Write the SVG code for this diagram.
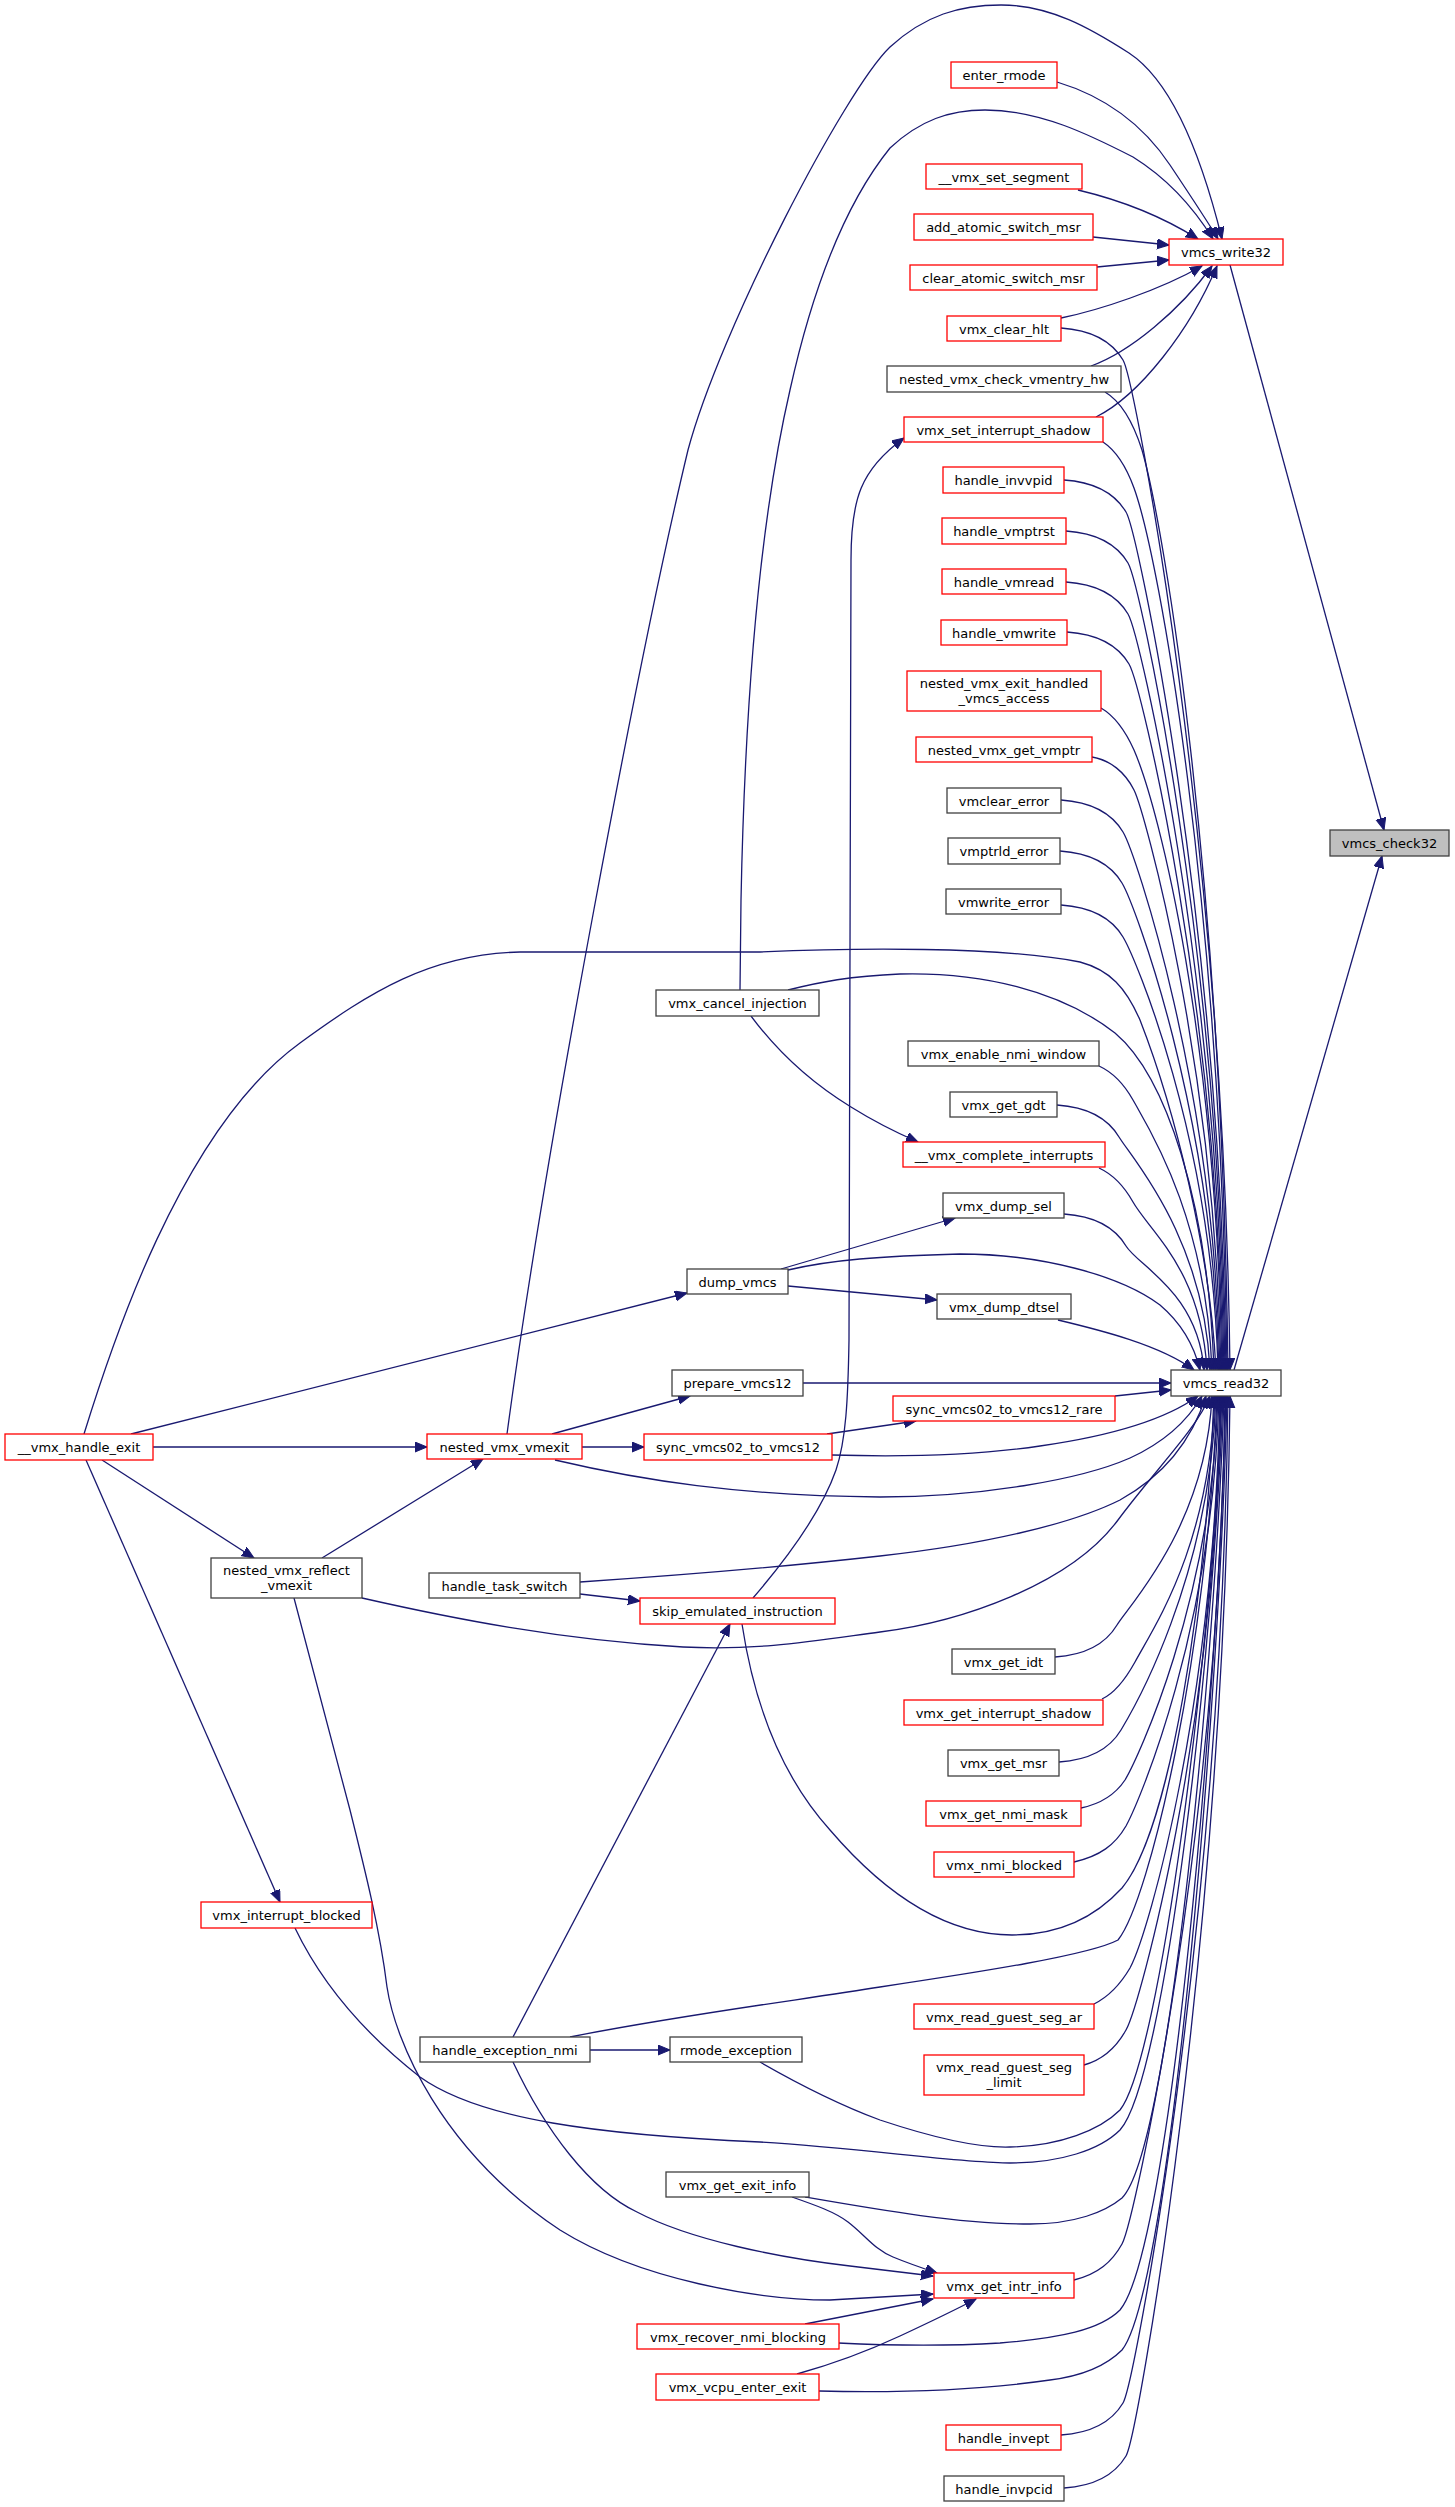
<svg xmlns="http://www.w3.org/2000/svg" width="1455" height="2507" viewBox="0 0 1455 2507">
<style>
.n rect{fill:#ffffff;stroke-width:1.3}
.r rect{stroke:#ff0000}
.k rect{stroke:#404040}
.root rect{fill:#bfbfbf;stroke:#404040}
text{font-family:"DejaVu Sans","Liberation Sans",sans-serif;font-size:13px;text-anchor:middle;fill:#000000}
#edges path{fill:none;stroke:#191970;stroke-width:1.3;marker-end:url(#a)}
</style>
<defs>
<marker id="a" markerUnits="userSpaceOnUse" markerWidth="14" markerHeight="12" refX="12" refY="5" orient="auto">
<path d="M0,0 L12,5 L0,10 z" fill="#191970" stroke="#191970" stroke-width="1"/>
</marker>
</defs>
<rect x="0" y="0" width="1455" height="2507" fill="#ffffff"/>
<g id="edges">
<!-- to vmcs_check32 -->
<path d="M1230,265 L1384,830"/>
<path d="M1234,1370 L1382,856"/>
<!-- to vmcs_write32 -->
<path d="M507,1434 C545,1150 640,650 688,450 C720,330 845,90 890,47 C925,15 960,5 1001,5 C1050,5 1090,28 1129,53 C1170,80 1200,150 1222,239"/>
<path d="M1057,82 C1100,95 1140,120 1170,165 C1190,195 1208,222 1218,239"/>
<path d="M740,990 L741,900 C745,700 760,520 790,390 C810,300 840,210 890,148 C920,120 950,110 985,110 C1040,110 1090,135 1133,157 C1170,180 1195,210 1213,239"/>
<path d="M1078,190 C1120,200 1160,215 1198,239"/>
<path d="M1093,237 L1169,245"/>
<path d="M1097,267 L1169,260"/>
<path d="M1061,318 C1100,310 1160,290 1202,266"/>
<path d="M1091,366 C1130,352 1180,310 1212,266"/>
<path d="M1096,417 C1140,395 1190,330 1217,266"/>
<!-- to vmcs_read32 from above -->
<path d="M1061,328 C1091,330 1111,340 1123,360 C1135,380 1224,849 1230,1370"/>
<path d="M1105,392 C1122,402 1134,425 1142,450 C1165,530 1222,881 1228,1370"/>
<path d="M1103,442 C1115,450 1126,466 1134,488 C1160,560 1221,906 1227,1370"/>
<path d="M1064,480 C1094,482 1114,492 1126,512 C1138,532 1220,925 1226,1370"/>
<path d="M1066,531 C1096,533 1116,543 1128,563 C1140,583 1219,950 1225,1370"/>
<path d="M1066,582 C1096,584 1116,594 1128,614 C1140,634 1218,976 1224,1370"/>
<path d="M1067,632 C1097,634 1117,644 1129,664 C1141,684 1217,1001 1223,1370"/>
<path d="M1101,708 C1113,715 1125,730 1134,750 C1160,810 1216,1039 1222,1370"/>
<path d="M1092,757 C1110,760 1125,772 1134,790 C1144,810 1215,1063 1221,1370"/>
<path d="M1061,800 C1091,802 1111,812 1123,832 C1135,852 1214,1085 1220,1370"/>
<path d="M1060,851 C1090,853 1110,863 1122,883 C1134,903 1213,1110 1219,1370"/>
<path d="M1061,905 C1091,907 1111,917 1123,937 C1135,957 1212,1137 1218,1370"/>
<path d="M84,1434 C110,1350 180,1130 300,1043 C370,992 430,954 520,952 L760,952 C850,948 1000,946 1080,962 C1110,970 1126,988 1140,1020 C1175,1110 1210,1250 1216,1370"/>
<path d="M788,990 C820,982 850,976 900,974 C980,972 1060,990 1115,1033 C1165,1075 1208,1200 1214,1370"/>
<path d="M1099,1066 C1112,1072 1124,1084 1133,1100 C1150,1130 1206,1218 1212,1370"/>
<path d="M1057,1105 C1087,1107 1107,1117 1119,1137 C1131,1157 1204,1237 1210,1370"/>
<path d="M1099,1168 C1112,1174 1124,1186 1133,1202 C1150,1232 1201,1269 1207,1370"/>
<path d="M1064,1214 C1094,1216 1114,1226 1126,1246 C1138,1266 1198,1292 1204,1370"/>
<path d="M788,1270 C830,1260 880,1256 960,1254 C1040,1254 1120,1275 1160,1305 C1180,1322 1194,1345 1200,1370"/>
<path d="M1058,1320 C1100,1330 1160,1345 1194,1370"/>
<path d="M803,1383 L1171,1383"/>
<path d="M1115,1396 L1171,1390"/>
<!-- to vmcs_read32 from below -->
<path d="M832,1455 C900,1457 980,1455 1040,1446 C1110,1436 1165,1420 1198,1396"/>
<path d="M555,1460 C640,1480 740,1496 880,1497 C980,1497 1080,1480 1130,1458 C1165,1442 1188,1420 1202,1396"/>
<path d="M580,1582 C700,1574 800,1565 880,1556 C980,1545 1070,1525 1120,1500 C1165,1475 1192,1440 1206,1396"/>
<path d="M362,1598 C450,1618 560,1640 683,1647 C760,1651 820,1640 880,1632 C960,1622 1070,1585 1118,1520 C1155,1470 1196,1430 1210,1396"/>
<path d="M1055,1657 C1085,1655 1105,1645 1117,1625 C1129,1605 1206,1526 1212,1396"/>
<path d="M742,1624 C755,1710 785,1780 830,1830 C890,1900 950,1935 1012,1935 C1065,1935 1100,1912 1122,1888 C1170,1830 1206,1600 1214,1396"/>
<path d="M1102,1699 C1115,1693 1125,1680 1135,1662 C1155,1625 1209,1547 1215,1396"/>
<path d="M1059,1762 C1089,1760 1109,1750 1121,1730 C1133,1710 1210,1579 1216,1396"/>
<path d="M570,2037 C680,2015 800,2000 880,1987 C980,1972 1090,1955 1118,1940 C1150,1900 1208,1650 1217,1396"/>
<path d="M1081,1808 C1100,1804 1115,1795 1125,1780 C1137,1760 1212,1602 1218,1396"/>
<path d="M1074,1862 C1100,1856 1115,1845 1126,1826 C1140,1800 1213,1629 1219,1396"/>
<path d="M1094,2004 C1108,1997 1120,1985 1130,1968 C1150,1930 1214,1700 1220,1396"/>
<path d="M1084,2065 C1102,2060 1116,2048 1126,2030 C1140,2005 1215,1730 1221,1396"/>
<path d="M760,2062 C800,2085 840,2105 880,2120 C940,2140 980,2148 1010,2147 C1060,2146 1100,2130 1120,2110 C1160,2060 1212,1650 1222,1396"/>
<path d="M295,1928 C320,1980 360,2030 420,2077 C480,2120 600,2135 760,2142 C860,2148 960,2163 1010,2163 C1060,2163 1100,2150 1120,2130 C1165,2080 1214,1650 1223,1396"/>
<path d="M805,2197 C880,2210 960,2224 1030,2224 C1075,2224 1105,2212 1122,2198 C1170,2150 1216,1650 1224,1396"/>
<path d="M1074,2280 C1098,2274 1112,2262 1122,2244 C1134,2222 1219,1838 1225,1396"/>
<path d="M838,2343 C900,2346 950,2346 1000,2343 C1060,2338 1100,2330 1120,2310 C1170,2250 1218,1700 1226,1396"/>
<path d="M819,2391 C900,2393 980,2390 1050,2380 C1090,2375 1110,2362 1122,2350 C1170,2290 1220,1700 1227,1396"/>
<path d="M1061,2435 C1091,2433 1111,2423 1123,2403 C1135,2383 1222,1915 1228,1396"/>
<path d="M1064,2488 C1094,2486 1114,2476 1126,2456 C1138,2436 1224,1942 1230,1396"/>
<!-- other edges -->
<path d="M153,1447 L427,1447"/>
<path d="M102,1460 L254,1558"/>
<path d="M131,1434 L687,1293"/>
<path d="M86,1460 L280,1902"/>
<path d="M322,1558 L483,1459"/>
<path d="M552,1434 L690,1396"/>
<path d="M582,1447 L644,1447"/>
<path d="M827,1434 L916,1421"/>
<path d="M751,1016 C780,1055 815,1085 851,1107 C875,1122 895,1132 918,1142"/>
<path d="M781,1269 L955,1218"/>
<path d="M788,1286 L937,1300"/>
<path d="M753,1598 C790,1555 822,1510 836,1470 C846,1440 848,1400 849,1340 L851,560 C851,500 860,470 904,438"/>
<path d="M580,1594 L640,1601"/>
<path d="M513,2037 L730,1624"/>
<path d="M590,2050 L670,2050"/>
<path d="M513,2062 C545,2130 590,2190 637,2212 C690,2240 780,2258 850,2266 L933,2276"/>
<path d="M294,1598 L350,1810 C365,1870 380,1930 387,1987 C395,2040 440,2150 560,2230 C640,2280 760,2300 830,2300 L933,2294"/>
<path d="M792,2197 C815,2205 835,2212 848,2222 C865,2235 875,2250 893,2257 C910,2264 922,2268 937,2273"/>
<path d="M805,2324 L933,2299"/>
<path d="M797,2374 C840,2362 870,2350 900,2336 C930,2322 955,2310 976,2299"/>
</g>
<g id="vmcs_check32" class="n root"><rect x="1330" y="830" width="119" height="26"/><text x="1389.5" y="847.5">vmcs_check32</text></g>
<g id="vmcs_write32" class="n r"><rect x="1169" y="239" width="114" height="26"/><text x="1226" y="256.5">vmcs_write32</text></g>
<g id="vmcs_read32" class="n k"><rect x="1171" y="1370" width="110" height="26"/><text x="1226" y="1387.5">vmcs_read32</text></g>
<g id="enter_rmode" class="n r"><rect x="951" y="62" width="106" height="26"/><text x="1004" y="79.5">enter_rmode</text></g>
<g id="vmx_set_segment" class="n r"><rect x="926" y="164" width="156" height="25"/><text x="1004" y="181.5">__vmx_set_segment</text></g>
<g id="add_atomic_switch_msr" class="n r"><rect x="914" y="214" width="179" height="26"/><text x="1003.5" y="231.5">add_atomic_switch_msr</text></g>
<g id="clear_atomic_switch_msr" class="n r"><rect x="910" y="265" width="187" height="25"/><text x="1003.5" y="282.5">clear_atomic_switch_msr</text></g>
<g id="vmx_clear_hlt" class="n r"><rect x="947" y="316" width="114" height="25"/><text x="1004" y="333.5">vmx_clear_hlt</text></g>
<g id="nested_vmx_check_vmentry_hw" class="n k"><rect x="887" y="366" width="234" height="26"/><text x="1004" y="383.5">nested_vmx_check_vmentry_hw</text></g>
<g id="vmx_set_interrupt_shadow" class="n r"><rect x="904" y="417" width="199" height="25"/><text x="1003.5" y="434.5">vmx_set_interrupt_shadow</text></g>
<g id="handle_invvpid" class="n r"><rect x="943" y="467" width="121" height="26"/><text x="1003.5" y="484.5">handle_invvpid</text></g>
<g id="handle_vmptrst" class="n r"><rect x="942" y="518" width="124" height="26"/><text x="1004" y="535.5">handle_vmptrst</text></g>
<g id="handle_vmread" class="n r"><rect x="942" y="569" width="124" height="25"/><text x="1004" y="586.5">handle_vmread</text></g>
<g id="handle_vmwrite" class="n r"><rect x="941" y="620" width="126" height="25"/><text x="1004" y="637.5">handle_vmwrite</text></g>
<g id="nested_vmx_exit_handled_vmcs_access" class="n r"><rect x="907" y="671" width="194" height="40"/><text x="1004" y="688">nested_vmx_exit_handled</text><text x="1004" y="703">_vmcs_access</text></g>
<g id="nested_vmx_get_vmptr" class="n r"><rect x="916" y="737" width="176" height="25"/><text x="1004" y="754.5">nested_vmx_get_vmptr</text></g>
<g id="vmclear_error" class="n k"><rect x="947" y="788" width="114" height="25"/><text x="1004" y="805.5">vmclear_error</text></g>
<g id="vmptrld_error" class="n k"><rect x="948" y="838" width="112" height="26"/><text x="1004" y="855.5">vmptrld_error</text></g>
<g id="vmwrite_error" class="n k"><rect x="946" y="889" width="115" height="25"/><text x="1003.5" y="906.5">vmwrite_error</text></g>
<g id="vmx_enable_nmi_window" class="n k"><rect x="908" y="1041" width="191" height="25"/><text x="1003.5" y="1058.5">vmx_enable_nmi_window</text></g>
<g id="vmx_get_gdt" class="n k"><rect x="950" y="1092" width="107" height="25"/><text x="1003.5" y="1109.5">vmx_get_gdt</text></g>
<g id="vmx_complete_interrupts" class="n r"><rect x="903" y="1142" width="202" height="25"/><text x="1004" y="1159.5">__vmx_complete_interrupts</text></g>
<g id="vmx_dump_sel" class="n k"><rect x="943" y="1193" width="121" height="25"/><text x="1003.5" y="1210.5">vmx_dump_sel</text></g>
<g id="vmx_dump_dtsel" class="n k"><rect x="937" y="1294" width="134" height="25"/><text x="1004" y="1311.5">vmx_dump_dtsel</text></g>
<g id="sync_vmcs02_to_vmcs12_rare" class="n r"><rect x="893" y="1396" width="222" height="25"/><text x="1004" y="1413.5">sync_vmcs02_to_vmcs12_rare</text></g>
<g id="vmx_get_idt" class="n k"><rect x="952" y="1649" width="103" height="25"/><text x="1003.5" y="1666.5">vmx_get_idt</text></g>
<g id="vmx_get_interrupt_shadow" class="n r"><rect x="904" y="1700" width="199" height="25"/><text x="1003.5" y="1717.5">vmx_get_interrupt_shadow</text></g>
<g id="vmx_get_msr" class="n k"><rect x="948" y="1750" width="111" height="26"/><text x="1003.5" y="1767.5">vmx_get_msr</text></g>
<g id="vmx_get_nmi_mask" class="n r"><rect x="926" y="1801" width="155" height="25"/><text x="1003.5" y="1818.5">vmx_get_nmi_mask</text></g>
<g id="vmx_nmi_blocked" class="n r"><rect x="934" y="1852" width="140" height="25"/><text x="1004" y="1869.5">vmx_nmi_blocked</text></g>
<g id="vmx_read_guest_seg_ar" class="n r"><rect x="914" y="2004" width="180" height="25"/><text x="1004" y="2021.5">vmx_read_guest_seg_ar</text></g>
<g id="vmx_read_guest_seg_limit" class="n r"><rect x="924" y="2055" width="160" height="40"/><text x="1004" y="2072">vmx_read_guest_seg</text><text x="1004" y="2087">_limit</text></g>
<g id="vmx_get_intr_info" class="n r"><rect x="934" y="2273" width="140" height="25"/><text x="1004" y="2290.5">vmx_get_intr_info</text></g>
<g id="handle_invept" class="n r"><rect x="946" y="2425" width="115" height="25"/><text x="1003.5" y="2442.5">handle_invept</text></g>
<g id="handle_invpcid" class="n k"><rect x="944" y="2476" width="120" height="25"/><text x="1004" y="2493.5">handle_invpcid</text></g>
<g id="vmx_cancel_injection" class="n k"><rect x="656" y="990" width="163" height="26"/><text x="737.5" y="1007.5">vmx_cancel_injection</text></g>
<g id="dump_vmcs" class="n k"><rect x="687" y="1269" width="101" height="25"/><text x="737.5" y="1286.5">dump_vmcs</text></g>
<g id="prepare_vmcs12" class="n k"><rect x="672" y="1370" width="131" height="26"/><text x="737.5" y="1387.5">prepare_vmcs12</text></g>
<g id="sync_vmcs02_to_vmcs12" class="n r"><rect x="644" y="1434" width="188" height="26"/><text x="738" y="1451.5">sync_vmcs02_to_vmcs12</text></g>
<g id="skip_emulated_instruction" class="n r"><rect x="640" y="1598" width="195" height="26"/><text x="737.5" y="1615.5">skip_emulated_instruction</text></g>
<g id="rmode_exception" class="n k"><rect x="670" y="2037" width="132" height="25"/><text x="736" y="2054.5">rmode_exception</text></g>
<g id="vmx_get_exit_info" class="n k"><rect x="666" y="2172" width="143" height="25"/><text x="737.5" y="2189.5">vmx_get_exit_info</text></g>
<g id="vmx_recover_nmi_blocking" class="n r"><rect x="637" y="2324" width="202" height="25"/><text x="738" y="2341.5">vmx_recover_nmi_blocking</text></g>
<g id="vmx_vcpu_enter_exit" class="n r"><rect x="656" y="2374" width="163" height="26"/><text x="737.5" y="2391.5">vmx_vcpu_enter_exit</text></g>
<g id="nested_vmx_vmexit" class="n r"><rect x="427" y="1434" width="155" height="25"/><text x="504.5" y="1451.5">nested_vmx_vmexit</text></g>
<g id="handle_task_switch" class="n k"><rect x="429" y="1573" width="151" height="25"/><text x="504.5" y="1590.5">handle_task_switch</text></g>
<g id="handle_exception_nmi" class="n k"><rect x="420" y="2037" width="170" height="25"/><text x="505" y="2054.5">handle_exception_nmi</text></g>
<g id="nested_vmx_reflect_vmexit" class="n k"><rect x="211" y="1558" width="151" height="40"/><text x="286.5" y="1575">nested_vmx_reflect</text><text x="286.5" y="1590">_vmexit</text></g>
<g id="vmx_interrupt_blocked" class="n r"><rect x="201" y="1902" width="171" height="26"/><text x="286.5" y="1919.5">vmx_interrupt_blocked</text></g>
<g id="vmx_handle_exit" class="n r"><rect x="5" y="1434" width="148" height="26"/><text x="79" y="1451.5">__vmx_handle_exit</text></g>
</svg>
